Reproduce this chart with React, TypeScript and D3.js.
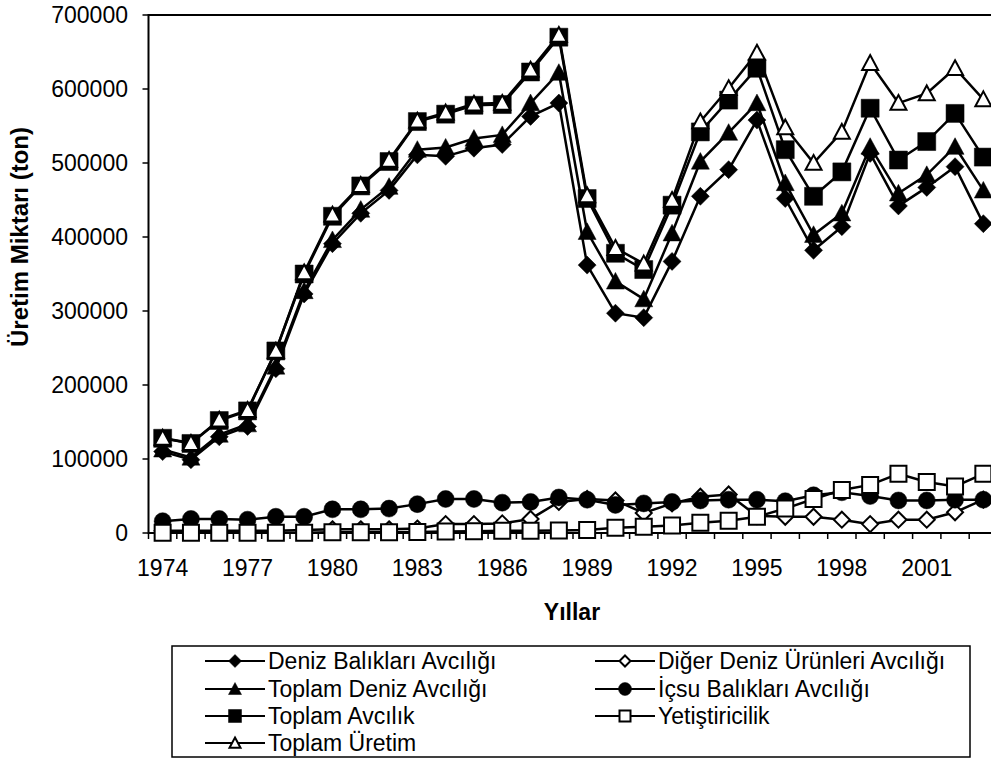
import React from 'react';
import * as d3 from 'd3';

// years on the category axis
const years = d3.range(1974, 2004).map(String);
const yTicks = [0, 100000, 200000, 300000, 400000, 500000, 600000, 700000];
const xLabelYears = ['1974', '1977', '1980', '1983', '1986', '1989', '1992', '1995', '1998', '2001'];

// values in tons
const denizBaliklari = [110000, 99000, 130000, 144000, 222000, 323000, 391000, 432000, 463000, 511000,
  509000, 520000, 525000, 563000, 581000, 362000, 297000, 291000, 367000, 455000,
  491000, 558000, 452000, 382000, 414000, 513000, 442000, 467000, 495000, 418000];
const digerDeniz = [3000, 3000, 3000, 3000, 3000, 4000, 5000, 5000, 5000, 6000,
  12000, 12000, 13000, 19000, 42000, 46000, 44000, 27000, 40000, 49000,
  52000, 23000, 22000, 22000, 18000, 12000, 18000, 18000, 28000, 45000];
const toplamDeniz = [113000, 102000, 133000, 147000, 225000, 327000, 396000, 437000, 468000, 518000,
  521000, 533000, 538000, 581000, 622000, 407000, 340000, 316000, 405000, 502000,
  541000, 581000, 473000, 403000, 432000, 522000, 459000, 484000, 522000, 463000];
const icsu = [16000, 19000, 19000, 18000, 22000, 22000, 32000, 32000, 33000, 39000,
  46000, 46000, 41000, 42000, 48000, 45000, 38000, 40000, 42000, 44000,
  45000, 45000, 43000, 51000, 55000, 50000, 44000, 44000, 45000, 45000];
const toplamAvcilik = [128000, 121000, 152000, 165000, 246000, 350000, 428000, 469000, 502000, 556000,
  566000, 578000, 579000, 623000, 670000, 452000, 378000, 356000, 443000, 542000,
  585000, 628000, 518000, 455000, 488000, 574000, 504000, 529000, 567000, 508000];
const yetistiricilik = [500, 500, 500, 500, 500, 500, 1000, 1000, 1000, 1500,
  2000, 2500, 3000, 3000, 3500, 4000, 7000, 8500, 10000, 14000,
  16600, 22000, 33000, 46000, 58000, 65000, 80000, 69000, 63000, 80000];
const toplamUretim = [128500, 121500, 153000, 166000, 246000, 352000, 430000, 470000, 504000, 557000,
  568000, 580000, 581000, 626000, 673000, 456000, 385000, 364000, 450000, 556000,
  601000, 649000, 548000, 500000, 542000, 635000, 581000, 594000, 628000, 586000];

const seriesNames = [
  'Deniz Balıkları Avcılığı', 'Diğer Deniz Ürünleri Avcılığı', 'Toplam Deniz Avcılığı',
  'İçsu Balıkları Avcılığı', 'Toplam Avcılık', 'Yetiştiricilik', 'Toplam Üretim',
];
const seriesValues = [denizBaliklari, digerDeniz, toplamDeniz, icsu, toplamAvcilik, yetistiricilik, toplamUretim];
const seriesMarkers = ['diamond', 'diamond', 'triangle', 'circle', 'square', 'square', 'triangle'];
const seriesFilled = [true, false, true, true, true, false, false];

const font = '"Liberation Sans", Arial, sans-serif';

const left = 148.5, right = 997.5, top = 15, bottom = 533;

function markerPath(type: string, r: number) {
  if (type === 'diamond') return `M0,${-r}L${r},0L0,${r}L${-r},0Z`;
  if (type === 'square') return `M${-r},${-r}H${r}V${r}H${-r}Z`;
  if (type === 'triangle') return `M0,${-r}L${r},${r * 0.85}L${-r},${r * 0.85}Z`;
  return d3.arc()({ innerRadius: 0, outerRadius: r, startAngle: 0, endAngle: Math.PI * 2 }) as string;
}

function Marker({ type, filled, x, y, r }: any) {
  return (
    <path
      d={markerPath(type, filled ? r : r - 1)}
      transform={`translate(${x},${y})`}
      fill={filled ? '#000' : '#fff'}
      stroke="#000"
      strokeWidth={filled ? 0.5 : 2}
    />
  );
}

export default function App() {
  const x = d3.scaleBand().domain(years).range([left, right]);
  const bw = x.bandwidth();
  const cx = (yr: string) => (x(yr) as number) + bw / 2;
  const y = d3.scaleLinear().domain([0, 700000]).range([bottom, top]);
  const line = d3.line<number>().x((_, i) => cx(years[i])).y(d => y(d));

  const legendRows = [661, 689, 716, 743];
  const legendCols = [235, 625];

  return (
    <svg width={991} height={769} style={{ position: 'absolute', left: 0, top: 0 }} fontFamily={font}>
      <rect x={0} y={0} width={991} height={769} fill="#fff" />
      {/* plot frame */}
      <rect x={left} y={top} width={right - left} height={bottom - top} fill="none" stroke="#000" strokeWidth={2} />
      {/* y axis */}
      {yTicks.map(t => (
        <g key={t}>
          <line x1={left - 6} x2={left} y1={y(t)} y2={y(t)} stroke="#000" strokeWidth={1.5} />
          <text x={128} y={y(t) + 8} textAnchor="end" fontSize={23}>{t}</text>
        </g>
      ))}
      {/* x axis ticks at category boundaries */}
      {years.concat(['end']).map((yr, i) => {
        const px = left + i * bw;
        return <line key={yr} x1={px} x2={px} y1={bottom} y2={bottom + 6} stroke="#000" strokeWidth={1.5} />;
      })}
      {xLabelYears.map(yr => (
        <text key={yr} x={cx(yr)} y={576} textAnchor="middle" fontSize={23}>{yr}</text>
      ))}
      <text x={572} y={620} textAnchor="middle" fontSize={23} fontWeight="bold">Yıllar</text>
      <text transform="translate(28,237) rotate(-90)" textAnchor="middle" fontSize={24} fontWeight="bold">
        Üretim Miktarı (ton)
      </text>

      {/* series */}
      {seriesValues.map((vals, s) => (
        <g key={seriesNames[s]}>
          <path d={line(vals) as string} fill="none" stroke="#000" strokeWidth={2.5} />
          {vals.map((v, i) => (
            <Marker key={i} type={seriesMarkers[s]} filled={seriesFilled[s]} x={cx(years[i])} y={y(v)}
              r={seriesMarkers[s] === 'circle' ? 8.5 : 9} />
          ))}
        </g>
      ))}

      {/* legend */}
      <rect x={172} y={646} width={798} height={111} fill="#fff" stroke="#000" strokeWidth={1.5} />
      {seriesNames.map((name, s) => {
        const lx = legendCols[s % 2];
        const ly = legendRows[Math.floor(s / 2)];
        return (
          <g key={name}>
            <line x1={lx - 30} x2={lx + 30} y1={ly} y2={ly} stroke="#000" strokeWidth={2} />
            <Marker type={seriesMarkers[s]} filled={seriesFilled[s]} x={lx} y={ly} r={6.5} />
            <text x={lx + 33} y={ly + 8} fontSize={23}>{name}</text>
          </g>
        );
      })}
    </svg>
  );
}
